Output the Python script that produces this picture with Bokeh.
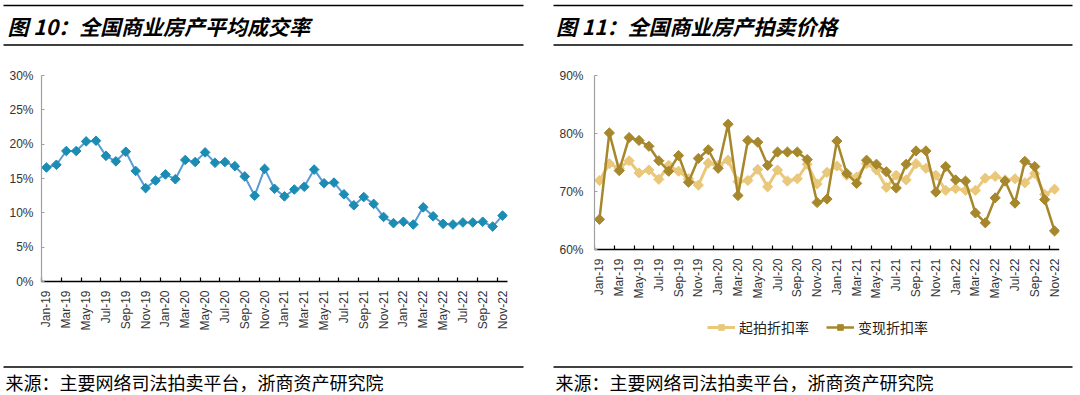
import math
from bokeh.plotting import figure
from bokeh.layouts import column, row
from bokeh.models import Range1d, FixedTicker, Legend, LegendItem
from bokeh.core.properties import value
from bokeh.embed import file_html
from bokeh.resources import INLINE

# ---------------- data ----------------
months = ["Jan-19", "Feb-19", "Mar-19", "Apr-19", "May-19", "Jun-19", "Jul-19", "Aug-19",
          "Sep-19", "Oct-19", "Nov-19", "Dec-19",
          "Jan-20", "Feb-20", "Mar-20", "Apr-20", "May-20", "Jun-20", "Jul-20", "Aug-20",
          "Sep-20", "Oct-20", "Nov-20", "Dec-20",
          "Jan-21", "Feb-21", "Mar-21", "Apr-21", "May-21", "Jun-21", "Jul-21", "Aug-21",
          "Sep-21", "Oct-21", "Nov-21", "Dec-21",
          "Jan-22", "Feb-22", "Mar-22", "Apr-22", "May-22", "Jun-22", "Jul-22", "Aug-22",
          "Sep-22", "Oct-22", "Nov-22"]

# 图10 全国商业房产平均成交率 (%)
deal_rate = [16.6, 17.0, 19.0, 19.0, 20.4, 20.5, 18.3, 17.5, 18.9, 16.1, 13.6, 14.7,
             15.6, 14.9, 17.7, 17.4, 18.8, 17.3, 17.4, 16.8, 15.3, 12.5, 16.4, 13.5,
             12.4, 13.4, 13.8, 16.3, 14.3, 14.4, 12.7, 11.1, 12.3, 11.3, 9.4, 8.5,
             8.7, 8.3, 10.8, 9.5, 8.4, 8.3, 8.6, 8.6, 8.7, 8.0, 9.6]

# 图11 起拍折扣率 (%)
start_discount = [71.9, 74.8, 74.0, 75.3, 73.2, 73.7, 72.1, 74.5, 73.5, 72.2, 71.1, 74.9,
                  74.5, 75.4, 71.7, 71.9, 73.8, 70.8, 73.7, 71.8, 72.2, 74.7, 71.3, 73.3,
                  74.4, 72.8, 72.5, 74.8, 73.7, 70.7, 72.8, 72.0, 74.8, 74.0, 72.8, 70.2,
                  70.5, 70.2, 70.2, 72.3, 72.6, 72.0, 72.2, 71.5, 73.1, 69.5, 70.4]

# 图11 变现折扣率 (%)
realize_discount = [65.2, 80.1, 73.6, 79.3, 78.8, 77.8, 75.3, 73.5, 76.2, 71.6, 75.7, 77.2,
                    74.0, 81.6, 69.3, 78.8, 78.5, 74.5, 76.8, 76.8, 76.8, 75.5, 68.1, 68.7,
                    78.7, 73.1, 71.4, 75.4, 74.7, 73.4, 70.6, 74.7, 77.0, 77.0, 69.9, 74.3,
                    72.0, 71.8, 66.3, 64.6, 68.9, 71.8, 68.0, 75.2, 74.3, 68.6, 63.2]

left_y_ticks = [0, 5, 10, 15, 20, 25, 30]
right_y_ticks = [60, 70, 80, 90]

title_left = "图 10：全国商业房产平均成交率"
title_right = "图 11：全国商业房产拍卖价格"
source_text = "来源：主要网络司法拍卖平台，浙商资产研究院"
legend_labels = ["起拍折扣率", "变现折扣率"]

# ---------------- styling ----------------
CJK = "Noto Sans CJK SC"
LAT = "Liberation Sans"
BLUE_LINE = "#5b9bd5"
BLUE_MARK = "#1b8cb3"
GOLD_DARK = "#a6872b"
GOLD_LIGHT = "#e9c87c"

idx = list(range(len(months)))
label_ticks = idx[::2]
boundary_ticks = [i - 0.5 for i in label_ticks]


def chart(fw, fh, lb, rb, tb, bb, y_start, y_end, y_ticks, y_standoff,
          x_fixed=None, y_bounds="auto"):
    p = figure(frame_width=fw, frame_height=fh,
               x_range=Range1d(-0.5, len(months) - 0.5),
               y_range=Range1d(y_start, y_end),
               output_backend="svg", toolbar_location=None,
               min_border_left=lb, min_border_right=rb,
               min_border_top=tb, min_border_bottom=bb)
    p.outline_line_color = None
    p.grid.visible = False
    p.background_fill_color = "white"
    p.border_fill_color = "white"

    xa = p.xaxis[0]
    xa.ticker = FixedTicker(ticks=label_ticks, minor_ticks=boundary_ticks)
    xa.major_label_overrides = {i: months[i] for i in label_ticks}
    xa.major_label_orientation = math.pi / 2
    xa.major_tick_in = 0
    xa.major_tick_out = 0
    xa.minor_tick_in = 4
    xa.minor_tick_out = 0
    xa.minor_tick_line_color = "black"
    xa.minor_tick_line_width = 1.2
    xa.axis_line_color = "black"
    xa.axis_line_width = 1.5
    xa.major_label_standoff = 9
    xa.major_label_text_font = LAT
    xa.major_label_text_font_size = "12px"
    xa.major_label_text_color = "#333333"
    if x_fixed is not None:
        xa.fixed_location = x_fixed

    ya = p.yaxis[0]
    ya.ticker = FixedTicker(ticks=y_ticks)
    ya.major_label_overrides = {t: f"{t}%" for t in y_ticks}
    ya.major_tick_in = 3
    ya.major_tick_out = 0
    ya.major_tick_line_color = "#a0a0a0"
    ya.minor_tick_line_color = None
    ya.axis_line_color = "#a0a0a0"
    ya.axis_line_width = 1.2
    ya.major_label_standoff = y_standoff
    ya.major_label_text_font = LAT
    ya.major_label_text_font_size = "12px"
    ya.major_label_text_color = "#333333"
    ya.bounds = y_bounds
    return p


# ---------------- left chart (page x 0..545, y 55..345) ----------------
p1 = chart(466, 206, 41, 38, 20, 64, 0, 30, left_y_ticks, 8)
p1.line(idx, deal_rate, line_color=BLUE_LINE, line_width=2)
p1.scatter(idx, deal_rate, marker="square", angle=math.pi / 4, size=6.8,
           fill_color=BLUE_MARK, line_color=BLUE_MARK)

# ---------------- right chart (page x 545..1080, y 55..345) ----------------
# frame runs down to the legend area; the x axis sits at 60% inside it
px_per_pt = 174 / 30.0
frame_h2 = 270
p2 = chart(465, frame_h2, 49, 21, 20, 0, 90 - frame_h2 / px_per_pt, 90,
           right_y_ticks, 11, x_fixed=60, y_bounds=(60, 90))
l1 = p2.line(idx, start_discount, line_color=GOLD_LIGHT, line_width=3)
s1 = p2.scatter(idx, start_discount, marker="square", angle=math.pi / 4, size=7.2,
                fill_color=GOLD_LIGHT, line_color=GOLD_LIGHT)
l2 = p2.line(idx, realize_discount, line_color=GOLD_DARK, line_width=2.5)
s2 = p2.scatter(idx, realize_discount, marker="square", angle=math.pi / 4, size=7.2,
                fill_color=GOLD_DARK, line_color=GOLD_DARK)

legend = Legend(items=[LegendItem(label=legend_labels[0], renderers=[l1, s1]),
                       LegendItem(label=legend_labels[1], renderers=[l2, s2])],
                orientation="horizontal", location=(113, 8),
                glyph_width=28, glyph_height=14, label_standoff=4, spacing=17,
                padding=0, margin=0, border_line_color=None, background_fill_alpha=0,
                label_text_font=CJK, label_text_font_size="14px",
                label_text_color="#222222")
p2.add_layout(legend)


# ---------------- header & footer ----------------
def band(height, y_top, y_bottom):
    p = figure(width=1080, height=height, x_range=Range1d(0, 1080),
               y_range=Range1d(y_bottom, y_top), output_backend="svg",
               toolbar_location=None, x_axis_type=None, y_axis_type=None,
               min_border=0)
    p.outline_line_color = None
    p.grid.visible = False
    return p


hdr = band(55, 0, 55)
hdr.segment(x0=[3, 553, 3, 553], y0=[5, 5, 44.5, 44.5],
            x1=[523, 1072, 523, 1072], y1=[5, 5, 44.5, 44.5],
            line_color="black", line_width=1.5)
hdr.text(x=[7, 555.5], y=[25, 25], text=[title_left, title_right],
         text_font=value(CJK), text_font_size="21px", text_font_style="bold italic",
         text_baseline="middle", text_align="left", text_color="black")

ftr = band(50, 345, 395)
ftr.segment(x0=[3, 553], y0=[366.5, 366.5], x1=[523, 1072], y1=[366.5, 366.5],
            line_color="black", line_width=1.5)
ftr.text(x=[5, 555], y=[381, 381], text=[source_text, source_text],
         text_font=value(CJK), text_font_size="18px",
         text_baseline="middle", text_align="left", text_color="black")

layout = column(hdr, row(p1, p2), ftr)

open("out.html", "w").write(file_html(layout, INLINE))
